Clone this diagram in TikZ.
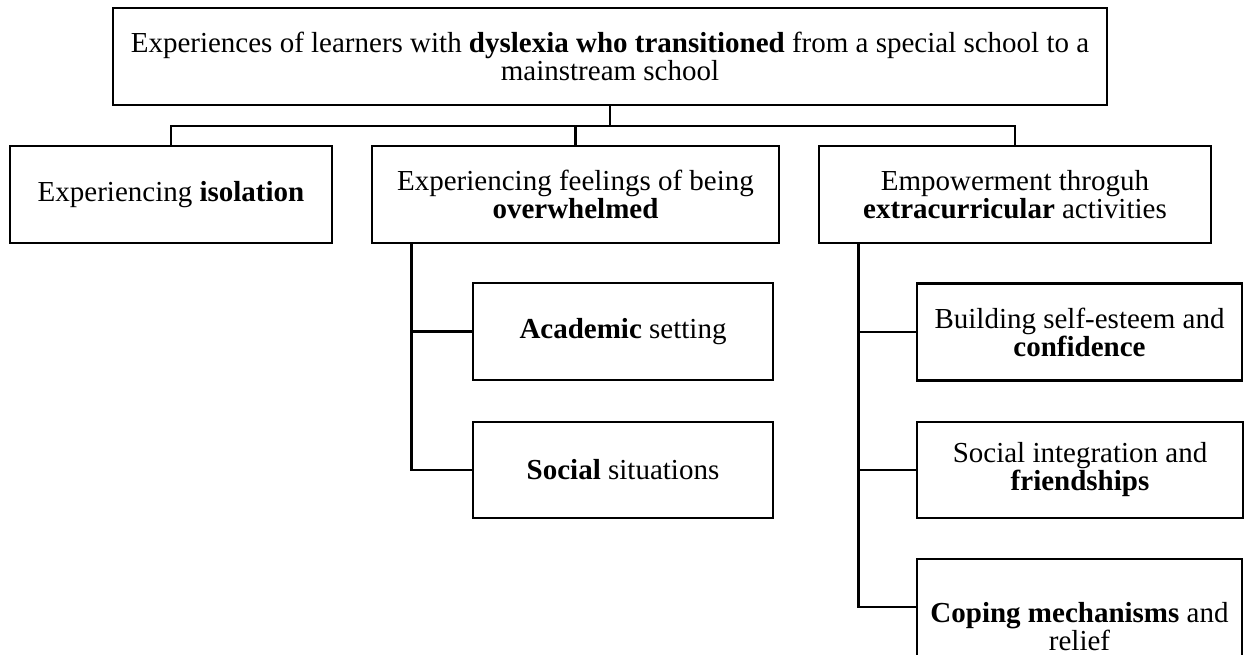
\documentclass[tikz,border=0pt]{standalone}
\usepackage{fontspec}
\setmainfont{Liberation Serif}
\begin{document}
\begin{tikzpicture}[x=1pt,y=-1pt,
  box/.style={draw, line width=2.8pt, align=center, inner sep=0pt, minimum height=97pt, font=\fontsize{29}{28}\selectfont},
  conn/.style={line width=2.8pt}]
\useasboundingbox (0,0) rectangle (1246,655);
\begin{scope}
\clip (0,0) rectangle (1246,655);
\node[box, minimum width=994pt, font=\fontsize{29}{25}\selectfont] (top) at (610,56.5)
  {Experiences of learners with \textbf{dyslexia who transitioned} from a special school to a\\ mainstream school};
\node[box, minimum width=322pt] (b1) at (171,194.5) {Experiencing \textbf{isolation}};
\node[box, minimum width=407pt] (b2) at (575.5,194.5) {Experiencing feelings of being\\ \textbf{overwhelmed}};
\node[box, minimum width=392pt] (b3) at (1015,194.5) {Empowerment throguh\\ \textbf{extracurricular} activities};
\node[box, minimum width=300pt] (acad) at (623,331.5) {\textbf{Academic} setting};
\node[box, minimum width=300pt, minimum height=96pt] (soc) at (623,470) {\textbf{Social} situations};
\node[box, minimum width=325pt] (build) at (1079.5,332) {Building self-esteem and\\ \textbf{confidence}};
\node[box, minimum width=326pt, minimum height=96pt] (sint) at (1080,470) {Social integration and\\ \textbf{friendships}};
\node[box, minimum width=325pt, minimum height=136pt] (cope) at (1079.5,627) {\textbf{Coping mechanisms} and\\ relief};
\coordinate (bus) at (610,126);
\draw[conn] (top.south) -- (bus);
\draw[conn] (b1.north) |- (bus) -| (b3.north);
\draw[conn] (b2.north) -- (b2.north |- bus);
\coordinate (v2) at ([xshift=41pt]b2.south west);
\coordinate (v3) at ([xshift=41pt]b3.south west);
\draw[conn] (v2) |- (acad.west);
\draw[conn] (v2) |- (soc.west);
\draw[conn] (v3) |- (build.west);
\draw[conn] (v3) |- (sint.west);
\draw[conn] (v3) |- ([yshift=20pt]cope.west);
\end{scope}
\end{tikzpicture}
\end{document}
